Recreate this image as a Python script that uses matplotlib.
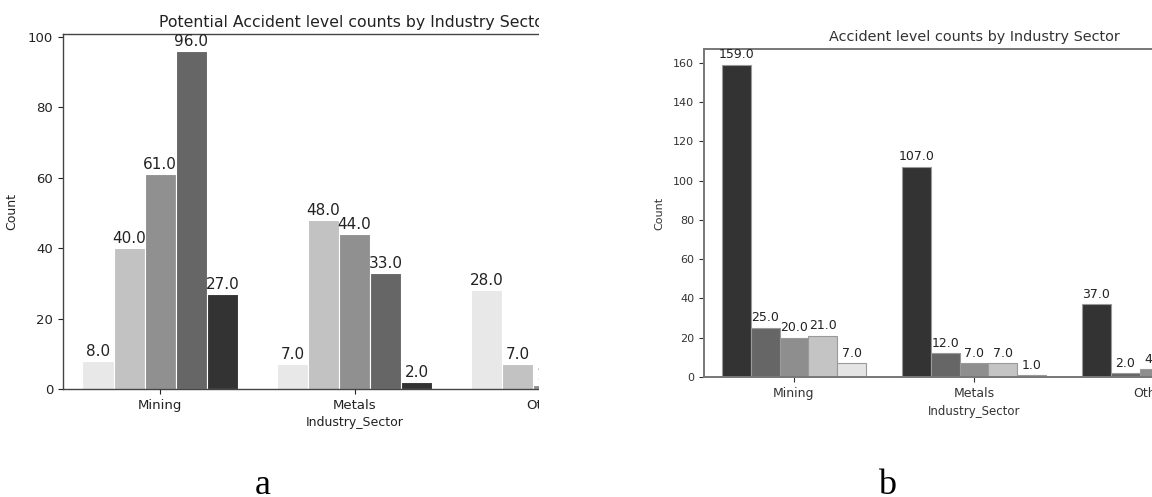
import matplotlib
matplotlib.use("Agg")
import matplotlib.pyplot as plt
import numpy as np
from matplotlib.patches import Rectangle

sectors = ["Mining", "Metals", "Others"]

# Potential accident level counts (5 hue levels per sector)
potential_levels = ["I", "II", "III", "IV", "V"]
potential_counts = {
    "I":   [8, 7, 28],
    "II":  [40, 48, 7],
    "III": [61, 44, 1],
    "IV":  [96, 33, 7],
    "V":   [27, 2, 1],
}

# Accident level counts (5 hue levels per sector)
accident_levels = ["I", "II", "III", "IV", "V"]
accident_counts = {
    "I":   [159, 107, 37],
    "II":  [25, 12, 2],
    "III": [20, 7, 4],
    "IV":  [21, 7, 1],
    "V":   [7, 1, 0],
}

left_colors = ["#e8e8e8", "#c2c2c2", "#909090", "#666666", "#333333"]
right_colors = ["#333333", "#666666", "#8e8e8e", "#c4c4c4", "#e4e4e4"]

W, H = 1152, 497
fig = plt.figure(figsize=(W / 100, H / 100), dpi=100)


def px_axes(x0, y_top, x1, y_bot):
    return fig.add_axes([x0 / W, (H - y_bot) / H, (x1 - x0) / W, (y_bot - y_top) / H])


def grouped(ax, levels, counts, colors, edge, fs, off):
    n = len(levels)
    width = 0.8 / n
    x = np.arange(len(sectors))
    for i, lev in enumerate(levels):
        pos = x - 0.4 + width * (i + 0.5)
        bars = ax.bar(pos, counts[lev], width=width, color=colors[i],
                      edgecolor=edge, linewidth=0.8)
        for b in bars:
            h = b.get_height()
            ax.annotate(f"{float(h):.1f}", (b.get_x() + b.get_width() / 2, h),
                        ha="center", va="bottom", xytext=(0, off),
                        textcoords="offset points", fontsize=fs, color="#222222")
    ax.set_xticks(x)
    ax.set_xticklabels(sectors)
    ax.set_xlim(-0.5, len(sectors) - 0.5)


# ---- left chart (a) ----
ax1 = px_axes(63, 34, 646, 389)
grouped(ax1, potential_levels, potential_counts, left_colors, "white", 11, 1.5)
ax1.set_ylim(0, 96 * 1.05)
ax1.set_yticks(np.arange(0, 101, 20))
ax1.set_title("Potential Accident level counts by Industry Sector", fontsize=11.3,
              color="#222222", pad=5)
ax1.set_ylabel("Count", fontsize=9, color="#222222", labelpad=7)
ax1.set_xlabel("Industry_Sector", fontsize=9, color="#222222", labelpad=3)
ax1.tick_params(labelsize=9.5, colors="#222222")
for s in ax1.spines.values():
    s.set_color("#444444")
    s.set_linewidth(1.0)

# ---- right chart (b) ----
ax2 = px_axes(704, 49, 1244, 377)
grouped(ax2, accident_levels, accident_counts, right_colors, "#9a9a9a", 9, 2.5)
ax2.set_ylim(0, 159 * 1.05)
ax2.set_yticks(np.arange(0, 161, 20))
ax2.set_title("Accident level counts by Industry Sector", fontsize=10.4,
              color="#333333", pad=6)
ax2.set_ylabel("Count", fontsize=8, color="#333333", labelpad=6)
ax2.set_xlabel("Industry_Sector", fontsize=8.5, color="#333333", labelpad=4)
ax2.tick_params(axis="y", labelsize=8, colors="#333333")
ax2.tick_params(axis="x", labelsize=9, colors="#333333")
for s in ax2.spines.values():
    s.set_color("#777777")
    s.set_linewidth(1.4)

# crop mask: the left panel is cut off at its right side
fig.add_artist(Rectangle((539 / W, 0), (652 - 539) / W, 1, transform=fig.transFigure,
                         facecolor="white", edgecolor="none", zorder=10))

# panel labels
fig.text(263 / W, 3 / H, "a", fontsize=26, family="Liberation Serif",
         ha="center", va="baseline")
fig.text(887 / W, 3 / H, "b", fontsize=26, family="Liberation Serif",
         ha="center", va="baseline")

fig.savefig("out.png", dpi=100, facecolor="white")
